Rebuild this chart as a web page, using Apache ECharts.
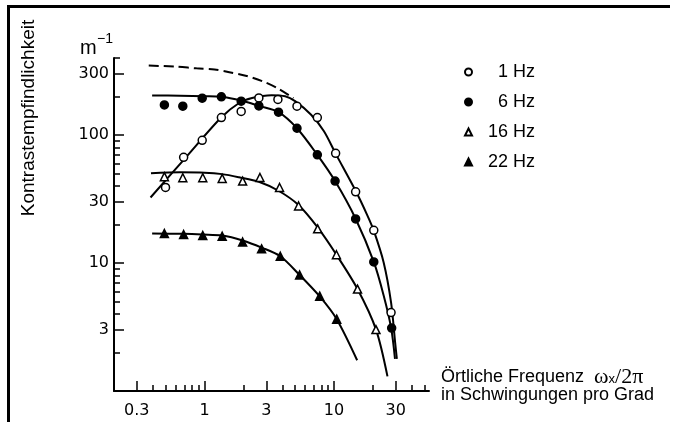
<!DOCTYPE html>
<html>
<head>
<meta charset="utf-8">
<script src="https://cdn.jsdelivr.net/npm/echarts@6/dist/echarts.min.js"></script>
<style>
html,body{margin:0;padding:0;background:#fff;}
#chart{width:673px;height:422px;}
#frame{position:absolute;left:7px;top:5px;width:663px;height:417px;border-top:3px solid #000;border-left:3px solid #000;box-sizing:border-box;pointer-events:none;}
</style>
</head>
<body>
<div id="chart"></div>
<div id="frame"></div>
<script>
// measured points (spatial frequency c/deg, contrast sensitivity)
const freq1 = [0.5, 0.69, 0.96, 1.35, 1.92, 2.63, 3.69, 5.18, 7.44, 10.3, 14.7, 20.3, 27.6];
const sens1 = [39, 67, 91, 137, 153, 195, 190, 168, 137, 72, 36, 18, 4.1];
const freq6 = [0.49, 0.68, 0.96, 1.35, 1.92, 2.63, 3.73, 5.18, 7.44, 10.2, 14.7, 20.3, 27.9];
const sens6 = [172, 168, 194, 199, 184, 169, 151, 113, 70, 43.7, 22.1, 10.2, 3.1];
const freq16 = [0.49, 0.68, 0.97, 1.37, 1.97, 2.68, 3.8, 5.33, 7.48, 10.45, 15.2, 21.1];
const sens16 = [47.3, 46.4, 46.4, 45.8, 43.7, 46.6, 38.9, 27.9, 18.5, 11.6, 6.26, 3.02];
const freq22 = [0.49, 0.69, 0.97, 1.37, 1.97, 2.76, 3.85, 5.43, 7.76, 10.5];
const sens22 = [17.0, 16.7, 16.4, 16.2, 14.6, 12.9, 11.3, 8.06, 5.51, 3.64];

// drawn curves
const fit1x = [0.383, 0.719, 1.345, 1.85, 2.33, 3.30, 4.20, 5.01, 6.66, 8.37, 10.3, 14.7, 18.1, 20.3, 24.2, 27.6, 29.7, 30.6];
const fit1y = [32.5, 67.0, 137, 178, 195, 205, 201, 184, 144, 107, 71.6, 36.7, 23.6, 17.9, 10.1, 4.92, 2.38, 1.785];
const fit6x = [0.394, 0.647, 1.0, 1.345, 1.92, 2.63, 3.73, 5.18, 7.44, 10.2, 14.7, 20.3, 24.2, 27.6, 29.6];
const fit6y = [204, 203, 201, 199, 186, 169, 151, 113, 70, 43.7, 22.2, 10.2, 5.58, 3.13, 1.785];
const fit16x = [0.386, 0.647, 1.0, 1.37, 1.85, 2.63, 3.73, 5.30, 7.53, 10.45, 15.2, 21.1, 25.9];
const fit16y = [50.3, 51.1, 50.8, 49.5, 46.8, 43.2, 36.7, 28.5, 18.8, 11.6, 6.26, 3.03, 1.30];
const fit22x = [0.394, 0.685, 0.97, 1.37, 1.97, 2.76, 3.85, 5.43, 7.76, 10.5, 15.1];
const fit22y = [17.0, 16.9, 16.7, 16.4, 15.0, 13.2, 11.3, 8.06, 5.48, 3.64, 1.74];
const envX = [0.371, 0.593, 0.867, 1.195, 1.555, 2.08, 2.79, 3.73, 4.86];
const envY = [349, 343, 332, 325, 310, 291, 264, 230, 194];

// axis ticks
const xTicks = [0.3, 0.4, 0.5, 0.6, 0.7, 0.8, 0.9, 1, 2, 3, 4, 5, 6, 7, 8, 9, 10, 20, 30, 40, 50];
const xLabels = [0.3, 1, 3, 10, 30];
const yTicks = [2, 3, 4, 5, 6, 7, 8, 9, 10, 20, 30, 40, 50, 60, 70, 80, 90, 100, 200, 300, 400];
const yLabels = [3, 10, 30, 100, 300];
const names = ['1 Hz', '6 Hz', '16 Hz', '22 Hz'];

const lg = Math.log10;
const pairs = (xs, ys) => xs.map((x, i) => [lg(x), lg(ys[i])]);
const fmt = v => String(parseFloat(Math.pow(10, v).toPrecision(2)));

const xMin = lg(0.2), xMax = 1.734, yMin = 0, yMax = lg(400);
const tickFont = {fontSize: 16, fontFamily: 'DejaVu Sans', color: '#000'};

const chart = echarts.init(document.getElementById('chart'));

function lineSeries(xs, ys, dashed) {
    return {
        type: 'line', data: pairs(xs, ys), showSymbol: false, smooth: 0.3,
        silent: true, z: 2,
        lineStyle: {color: '#000', width: 2, type: dashed ? [10, 5] : 'solid'}
    };
}
function pointSeries(name, xs, ys, symbol, filled) {
    return {
        name: name, type: 'scatter', data: pairs(xs, ys), symbol: symbol,
        symbolSize: 8, z: 5,
        itemStyle: {color: filled ? '#000' : '#fff', borderColor: '#000', borderWidth: 1.5, opacity: 1}
    };
}

const option = {
    animation: false,
    grid: {left: 114, right: 244, top: 58, bottom: 31, containLabel: false, outerBoundsMode: 'none'},
    xAxis: [{
        type: 'value', min: xMin, max: xMax, position: 'bottom',
        axisLine: {onZero: false, lineStyle: {color: '#000', width: 2}},
        splitLine: {show: false},
        axisTick: {inside: true, length: 6, lineStyle: {color: '#000', width: 1.5}, customValues: xTicks.map(lg)},
        axisLabel: Object.assign({customValues: xLabels.map(lg), formatter: fmt, margin: 12}, tickFont)
    }, {
        type: 'value', min: xMin, max: xMax, position: 'bottom',
        axisLine: {show: false, onZero: false}, splitLine: {show: false}, axisLabel: {show: false},
        axisTick: {inside: true, length: 10, lineStyle: {color: '#000', width: 1.5}, customValues: xLabels.map(lg)}
    }],
    yAxis: [{
        type: 'value', min: yMin, max: yMax, position: 'left',
        axisLine: {show: true, onZero: false, lineStyle: {color: '#000', width: 2}},
        splitLine: {show: false},
        axisTick: {show: true, inside: true, length: 6, lineStyle: {color: '#000', width: 1.5}, customValues: yTicks.map(lg)},
        axisLabel: Object.assign({customValues: yLabels.map(lg), formatter: fmt, margin: 5}, tickFont)
    }, {
        type: 'value', min: yMin, max: yMax, position: 'left',
        axisLine: {show: false, onZero: false}, splitLine: {show: false}, axisLabel: {show: false},
        axisTick: {show: true, inside: true, length: 10, lineStyle: {color: '#000', width: 1.5}, customValues: yLabels.map(lg)}
    }],
    legend: {
        orient: 'vertical', left: 459, top: 58, itemWidth: 7, itemHeight: 7, itemGap: 12,
        textStyle: {fontSize: 18, fontFamily: 'Liberation Sans', color: '#000', lineHeight: 18},
        data: names.map(n => ({name: n, textStyle: {padding: [0, 0, 0, n.length < 5 ? 21 : 11]}}))
    },
    graphic: [
        {type: 'text', x: 29, y: 118, rotation: Math.PI / 2,
         style: {text: 'Kontrastempfindlichkeit', fontSize: 19, fontFamily: 'Liberation Sans', fill: '#000', align: 'center', verticalAlign: 'middle'}},
        {type: 'text', x: 80, y: 48.5,
         style: {text: 'm', fontSize: 20, fontFamily: 'Liberation Sans', fill: '#000', align: 'left', verticalAlign: 'middle'}},
        {type: 'text', x: 97, y: 39,
         style: {text: '\u22121', fontSize: 14, fontFamily: 'Liberation Sans', fill: '#000', align: 'left', verticalAlign: 'middle'}},
        {type: 'text', x: 441, y: 368,
         style: {
             text: '{a|Örtliche Frequenz  }{w|ω}{s|x}{w|/2π}\n{a|in Schwingungen pro Grad}',
             fill: '#000', align: 'left', verticalAlign: 'top',
             rich: {
                 a: {fontSize: 18, fontFamily: 'Liberation Sans', lineHeight: 18, verticalAlign: 'middle'},
                 w: {fontSize: 22, fontFamily: 'Liberation Serif', lineHeight: 18, verticalAlign: 'middle'},
                 s: {fontSize: 13, fontFamily: 'Liberation Sans', lineHeight: 18, verticalAlign: 'bottom'}
             }
         }}
    ],
    series: [
        lineSeries(envX, envY, true),
        lineSeries(fit1x, fit1y),
        lineSeries(fit6x, fit6y),
        lineSeries(fit16x, fit16y),
        lineSeries(fit22x, fit22y),
        pointSeries(names[0], freq1, sens1, 'circle', false),
        pointSeries(names[1], freq6, sens6, 'circle', true),
        pointSeries(names[2], freq16, sens16, 'triangle', false),
        pointSeries(names[3], freq22, sens22, 'triangle', true)
    ]
};
chart.setOption(option);
</script>
</body>
</html>
